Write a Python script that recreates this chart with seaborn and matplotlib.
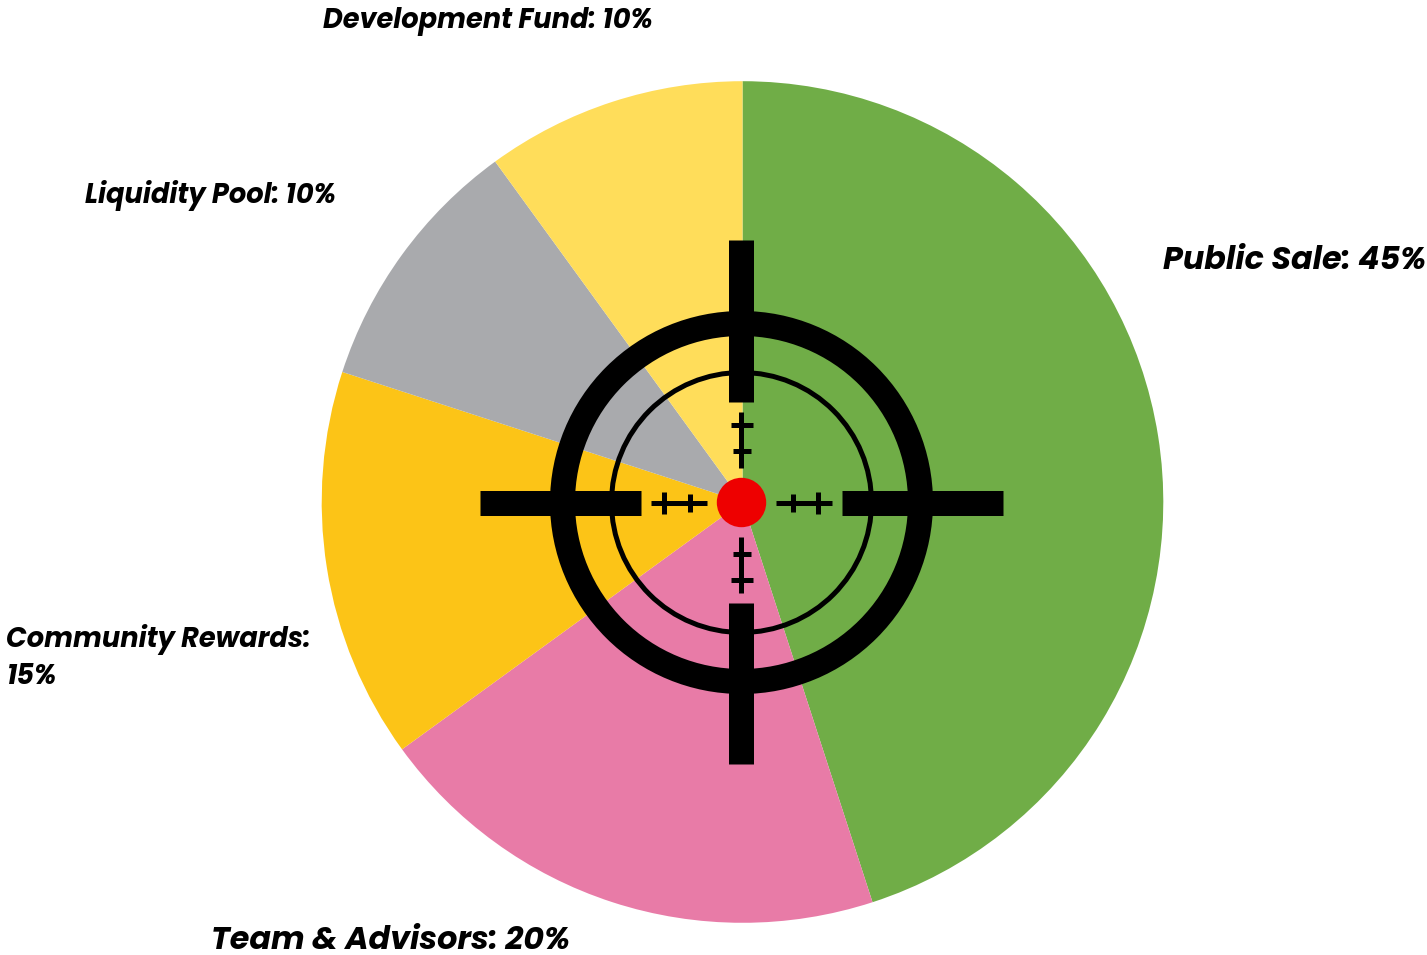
import matplotlib
matplotlib.use("Agg")
import matplotlib.pyplot as plt
import seaborn as sns
from matplotlib.patches import Circle

categories = ["Public Sale", "Team & Advisors", "Community Rewards", "Liquidity Pool", "Development Fund"]
shares = [45, 20, 15, 10, 10]
colors = ["#70AD47", "#E87BA7", "#FCC417", "#A9AAAD", "#FFDD5A"]

sns.set_theme(style="white")
plt.rcParams['font.family'] = ['Poppins', 'Open Sans', 'DejaVu Sans']

W, H = 1427, 955
PX = 0.72  # points per pixel at dpi 100
fig = plt.figure(figsize=(W/100, H/100), dpi=100)
cx, cy, R = 742.5, 502, 420.8

pa = fig.add_axes([(cx-R)/W, 1-(cy+R)/H, 2*R/W, 2*R/H])
pa.pie(shares, colors=colors, startangle=90, counterclock=False, radius=1, wedgeprops=dict(linewidth=0))
pa.set_xlim(-1, 1); pa.set_ylim(-1, 1)

ov = fig.add_axes([0, 0, 1, 1]); ov.set_xlim(0, W); ov.set_ylim(H, 0); ov.axis('off'); ov.patch.set_alpha(0)
rx, ry = 741.5, 502.5   # ring centre
mx, my = 741.4, 502.6   # bar centre lines (pixel snapping rounds these up)

ov.add_patch(Circle((rx, ry), 179, fill=False, ec='black', lw=25*PX))
ov.add_patch(Circle((rx, ry), 130, fill=False, ec='black', lw=5*PX))
for a, b in [(240, 402.3), (602.7, 764)]:
    ov.plot([mx, mx], [a, b], color='black', lw=25*PX, solid_capstyle='butt')
for a, b in [(480, 641), (841.7, 1003)]:
    ov.plot([a, b], [my, my], color='black', lw=25*PX, solid_capstyle='butt')
# small crosshair ticks: (line start, line end, (tick position, tick half length) ...)
for a, b, t1, t2 in [(651, 707.3, (664, 11), (690, 9)), (775.7, 832, (792.7, 9), (818.3, 11))]:
    ov.plot([a, b], [my, my], color='black', lw=5*PX, solid_capstyle='butt')
    for t, h in (t1, t2):
        ov.plot([t, t], [ry-h, ry+h], color='black', lw=5*PX, solid_capstyle='butt')
for a, b, t1, t2 in [(412, 468, (425.3, 11), (451, 9)), (536.7, 592.7, (554, 9), (579.7, 11))]:
    ov.plot([mx, mx], [a, b], color='black', lw=5*PX, solid_capstyle='butt')
    for t, h in (t1, t2):
        ov.plot([rx-h, rx+h], [t, t], color='black', lw=5*PX, solid_capstyle='butt')
ov.add_patch(Circle((rx, ry), 24.7, fc='#EE0000', ec='none', zorder=5))

kw = dict(fontweight='bold', fontstyle='italic', color='black', va='center', ha='left')
ov.text(1163, 260.5, f"{categories[0]}: {shares[0]}%", fontsize=22.9, **kw)
ov.text(211, 941, f"{categories[1]}: {shares[1]}%", fontsize=22.9, **kw)
ov.text(6, 658, f"{categories[2]}:\n{shares[2]}%", fontsize=19.6, linespacing=1.37, **kw)
ov.text(85, 195, f"{categories[3]}: {shares[3]}%", fontsize=19.6, **kw)
ov.text(323, 21, f"{categories[4]}: {shares[4]}%", fontsize=19.6, **kw)
fig.savefig("out.png", dpi=100)
